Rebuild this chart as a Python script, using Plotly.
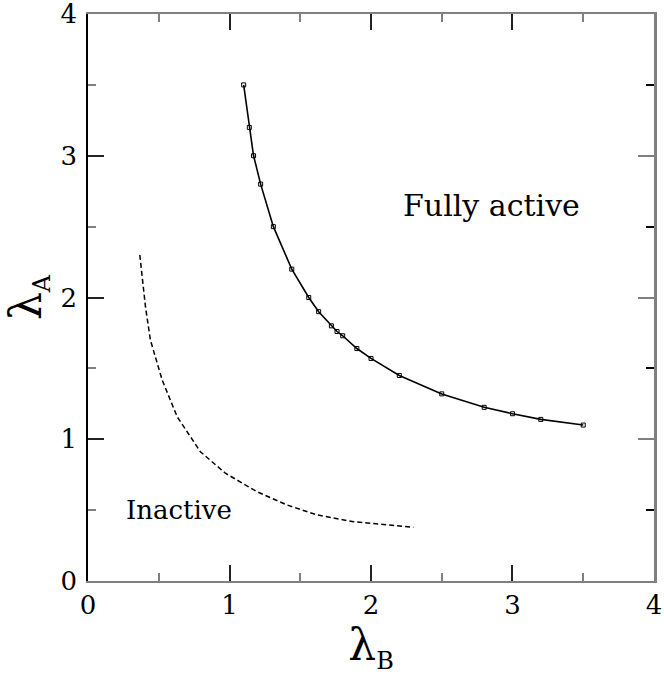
import plotly.graph_objects as go

# boundary between partially and fully active region
active_lb = [1.1, 1.14, 1.17, 1.22, 1.31, 1.44, 1.56, 1.63, 1.72, 1.76, 1.8,
             1.9, 2.0, 2.2, 2.5, 2.8, 3.0, 3.2, 3.5]
active_la = [3.5, 3.2, 3.0, 2.8, 2.5, 2.2, 2.0, 1.9, 1.8, 1.76, 1.73,
             1.64, 1.57, 1.45, 1.32, 1.225, 1.18, 1.14, 1.1]

# boundary of the inactive region
inactive_lb = [0.366, 0.406, 0.441, 0.524, 0.63, 0.794, 0.971, 1.195, 1.407,
               1.619, 1.877, 2.113, 2.3]
inactive_la = [2.3, 1.935, 1.7, 1.418, 1.159, 0.912, 0.76, 0.63, 0.536,
               0.466, 0.418, 0.395, 0.379]

tick_vals = [0, 1, 2, 3, 4]
tick_text = ['0', '1', '2', '3', '4']

FONT = 'DejaVu Serif'
GRAY = '#808080'

fig = go.Figure()
fig.add_trace(go.Scatter(
    x=active_lb, y=active_la, mode='lines+markers',
    line=dict(color='black', width=1.6),
    marker=dict(symbol='square-open', size=4, color='black', line=dict(width=1)),
    showlegend=False))
fig.add_trace(go.Scatter(
    x=inactive_lb, y=inactive_la, mode='lines',
    line=dict(color='black', width=1.5, dash='5px,3px'),
    showlegend=False))
# invisible copy so the right-hand axis is drawn
fig.add_trace(go.Scatter(
    x=active_lb, y=active_la, yaxis='y2', mode='lines',
    line=dict(width=0), hoverinfo='skip', showlegend=False))

axis_common = dict(
    range=[-0.0001, 4.0001], tickvals=tick_vals, ticktext=tick_text,
    ticks='inside', ticklen=16, tickwidth=1.5, tickcolor='#222222',
    minor=dict(ticks='inside', ticklen=8, dtick=0.5, tickwidth=1.5, tickcolor=GRAY),
    showgrid=False, zeroline=False, ticklabeloverflow='allow',
    tickfont=dict(family=FONT, size=26, color='black'),
)

fig.update_layout(
    width=664, height=675,
    margin=dict(l=88, r=10, t=14, b=94, autoexpand=False),
    plot_bgcolor='white', paper_bgcolor='white',
    font=dict(family=FONT, color='black'),
    xaxis=dict(
        axis_common, showline=True, linecolor=GRAY, linewidth=2, mirror='ticks',
        tickwidth=2,
        minor=dict(ticks='inside', ticklen=8, dtick=0.5, tickwidth=2, tickcolor=GRAY),
        title=dict(text="λ<sub><span style='font-size:24px'>B</span></sub>",
                   font=dict(family=FONT, size=44), standoff=4),
    ),
    yaxis=dict(
        axis_common, showline=True, linecolor='black', linewidth=1.5, mirror=False,
        ticklabelstandoff=4,
        title=dict(text="λ<sub><span style='font-size:24px'>A</span></sub>",
                   font=dict(family=FONT, size=44), standoff=8),
    ),
    yaxis2=dict(
        overlaying='y', side='right', range=[-0.0001, 4.0001], tickvals=tick_vals,
        showticklabels=False, ticks='inside', ticklen=16, tickwidth=1.5, tickcolor=GRAY,
        minor=dict(ticks='inside', ticklen=8, dtick=0.5, tickwidth=1.5, tickcolor='black'),
        showline=True, linecolor=GRAY, linewidth=2.5, showgrid=False, zeroline=False,
    ),
    annotations=[
        dict(x=2.85, y=2.65, xref='x', yref='y', text='Fully active', showarrow=False,
             font=dict(family=FONT, size=30, color='black')),
        dict(x=0.64, y=0.5, xref='x', yref='y', text='Inactive', showarrow=False,
             font=dict(family=FONT, size=26, color='black')),
    ],
)

# drop the default page margin so the figure sits at the window's corner
fig.write_html("out.html", config={'displayModeBar': False},
               post_script="document.body.style.margin='0';")
